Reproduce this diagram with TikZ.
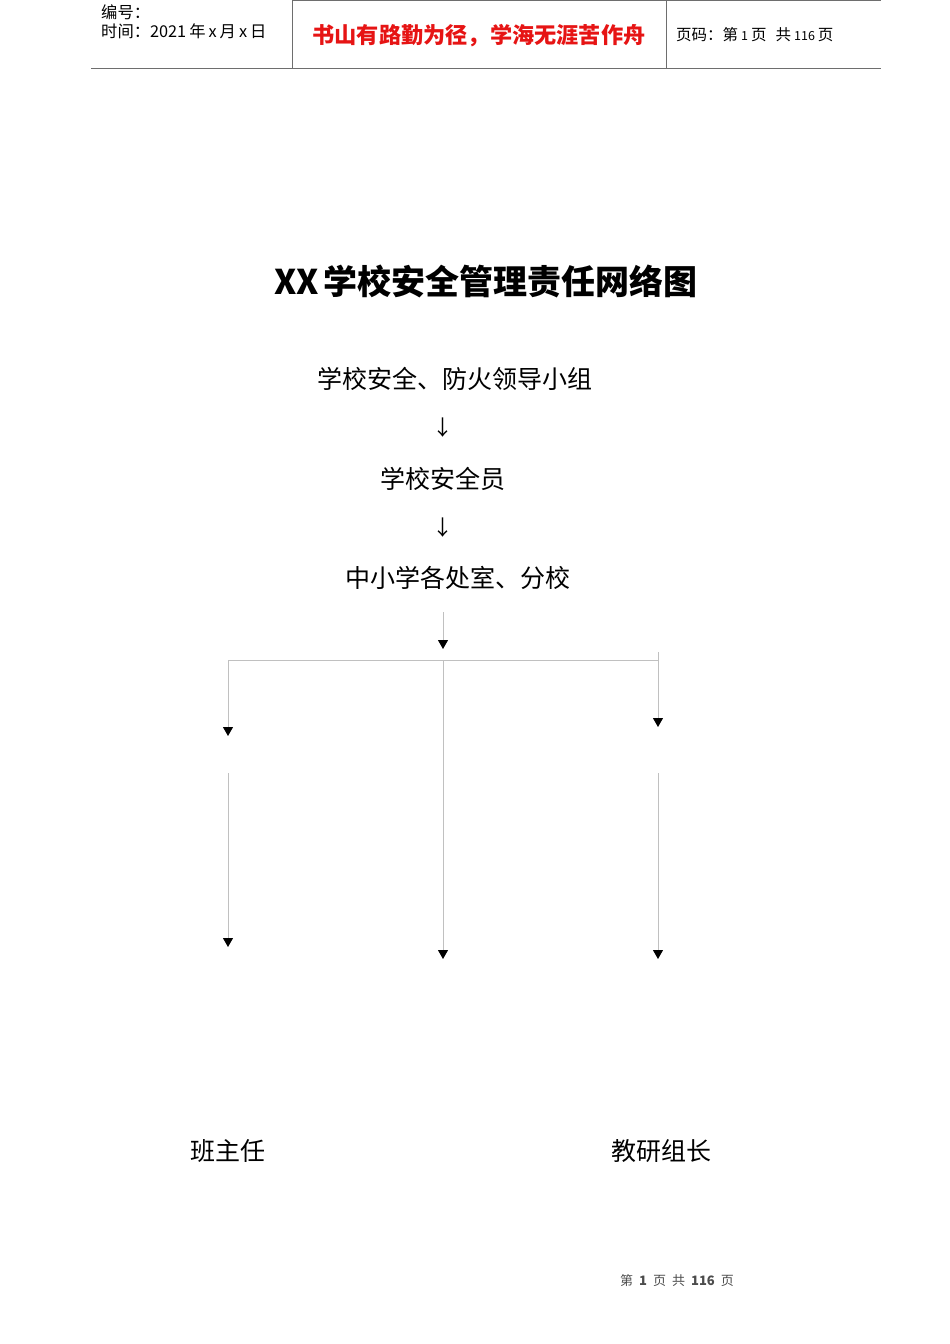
\documentclass[tikz,border=0pt]{standalone}
\usepackage{fontspec}
\setmainfont{Liberation Serif}
\newfontfamily\cjk{Noto Sans CJK SC}
\usetikzlibrary{arrows.meta}
\definecolor{linegrey}{RGB}{192,192,192}
\definecolor{rulegrey}{RGB}{110,110,110}
\definecolor{mottored}{RGB}{230,20,20}
\tikzset{
  body/.style={inner sep=0pt, font=\cjk\fontsize{25}{29}\selectfont},
  hdr/.style={inner sep=0pt, anchor=west, font=\cjk\fontsize{16.3}{19}\selectfont},
  conn/.style={draw=linegrey, line width=0.9pt, -{Triangle[width=10pt,length=9pt,color=black]}},
  plain/.style={draw=linegrey, line width=0.9pt},
  rule/.style={draw=rulegrey, line width=1pt}
}
\begin{document}
\begin{tikzpicture}[x=1pt,y=-1pt]
\useasboundingbox (0,0) rectangle (950,1344);
% header
\draw[rule] (292,0.5) -- (881,0.5);
\draw[rule] (91,68) -- (881,68);
\draw[rule] (292,0) -- (292,68);
\draw[rule] (666,0) -- (666,68);
\node[hdr] (bh) at (101,12) {编号：};
\node[hdr] (sj) at (101,31) {时间：2021\hspace{3pt}年\hspace{3pt}x\hspace{3pt}月\hspace{3pt}x\hspace{3pt}日};
\node[inner sep=0pt, text=mottored, font=\cjk\bfseries\fontsize{22.2}{26}\selectfont] (motto) at (479,36) {书山有路勤为径，学海无涯苦作舟};
\node[hdr, font=\cjk\fontsize{15.5}{18}\selectfont] (ym) at (676,35) {页码：第\hspace{3pt}{\fontsize{12.5}{14}\selectfont 1}\hspace{3pt}页\hspace{9pt}共\hspace{3pt}{\fontsize{12.5}{14}\selectfont 116}\hspace{3pt}页};
% title
\node[inner sep=0pt, font=\cjk\bfseries\fontsize{34}{38}\selectfont] (title) at (486,281) {XX\hspace{5pt}学校安全管理责任网络图};
% chain
\node[body] (lead) at (455,379) {学校安全、防火领导小组};
\node[body, font=\cjk\fontsize{21}{24}\selectfont] (a1) at (443,428) {↓};
\node[body] (safe) at (443,479) {学校安全员};
\node[body, font=\cjk\fontsize{21}{24}\selectfont] (a2) at (443,528) {↓};
\node[body] (dept) at (458,578) {中小学各处室、分校};
% connectors
\coordinate (ctop) at (443,612);
\coordinate (ctip) at (443,649);
\coordinate (jl) at (228,660);
\coordinate (jc) at (443,660);
\coordinate (jr) at (658,660);
\coordinate (rtop) at (658,652);
\coordinate (ltip) at (228,736);
\coordinate (rtip) at (658,727);
\coordinate (ctip2) at (443,959);
\coordinate (l2top) at (228,773);
\coordinate (l2tip) at (228,947);
\coordinate (r2top) at (658,773);
\coordinate (r2tip) at (658,959);
\draw[conn] (ctop) -- (ctip);
\draw[plain] (jl) -- (jr);
\draw[conn] (jl) -- (ltip);
\draw[conn] (rtop) -- (rtip);
\draw[conn] (jc) -- (ctip2);
\draw[conn] (l2top) -- (l2tip);
\draw[conn] (r2top) -- (r2tip);
% bottom
\node[body] (bzr) at (228,1151) {班主任};
\node[body] (jyzz) at (661,1151) {教研组长};
\node[inner sep=0pt, text=black!70, font=\cjk\fontsize{13}{15}\selectfont] (foot) at (677,1281) {第\hspace{6pt}\textbf{1}\hspace{6pt}页\hspace{6pt}共\hspace{6pt}\textbf{116}\hspace{6pt}页};
\end{tikzpicture}
\end{document}
